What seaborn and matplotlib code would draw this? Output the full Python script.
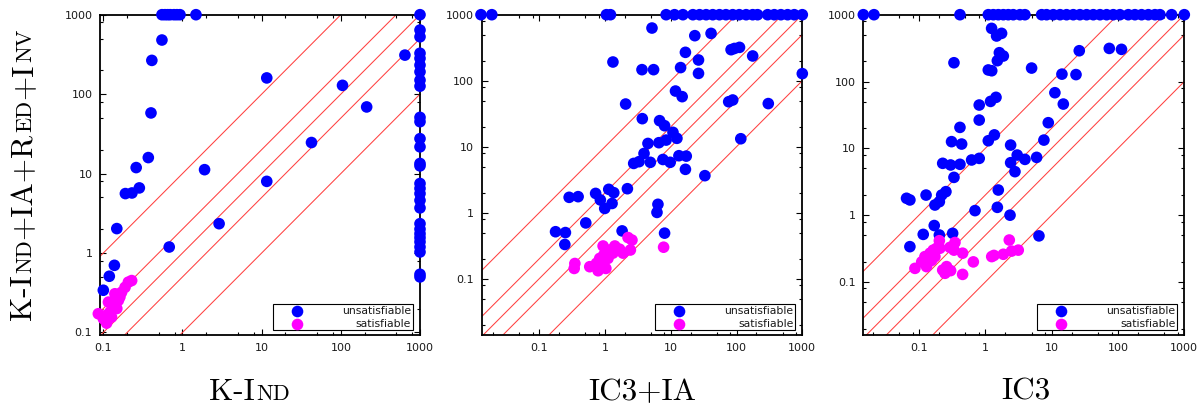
import numpy as np
import pandas as pd
import matplotlib
matplotlib.use("Agg")
import matplotlib.pyplot as plt
import matplotlib.transforms as mtrans
from matplotlib import ticker
from matplotlib.patches import Rectangle
import seaborn as sns

# ---------------- data ----------------
# Panel 1: K-Ind (x) vs K-Ind+IA+Red+Inv (y)
p1_unsat_x = [0.55, 0.6, 0.65, 0.7, 0.78, 0.85, 0.93, 1.48,
              0.55, 0.41, 0.40, 0.37, 0.26, 0.19, 0.23, 0.285, 0.148, 0.138, 0.119, 0.1,
              0.68, 1.9, 2.9, 11.6, 11.6, 42.6, 105, 212, 645,
              1000, 1000, 1000, 1000, 1000, 1000, 1000, 1000, 1000, 1000,
              1000, 1000, 1000, 1000, 1000, 1000, 1000, 1000, 1000, 1000,
              1000, 1000, 1000, 1000, 1000, 1000, 1000, 1000, 1000]
p1_unsat_y = [1000, 1000, 1000, 1000, 1000, 1000, 1000, 1000,
              480, 266, 58, 15.9, 11.9, 5.6, 5.7, 6.6, 2.03, 0.70, 0.51, 0.34,
              1.19, 11.2, 2.34, 160, 7.98, 24.6, 129, 69, 310,
              1000, 641, 527, 327, 282, 232, 191, 150, 126, 51,
              45, 27.5, 21.7, 13.4, 12.5, 7.5, 6.5, 5.6, 4.6, 3.7,
              2.34, 2.0, 1.75, 1.56, 1.38, 1.19, 1.03, 0.54, 0.50]
p1_sat_x = [0.0865, 0.1, 0.11, 0.121, 0.116, 0.134, 0.14, 0.155, 0.148, 0.17,
            0.162, 0.188, 0.207, 0.228, 0.127, 0.108]
p1_sat_y = [0.172, 0.149, 0.131, 0.18, 0.241, 0.23, 0.307, 0.253, 0.2, 0.32,
            0.28, 0.37, 0.43, 0.45, 0.156, 0.164]

# Panel 2: IC3+IA (x) vs K-Ind+IA+Red+Inv (y)
p2_unsat_x = [0.013, 0.019, 1.05, 1.21, 8.5, 11.4, 15.3, 21.7, 27.4, 34.5, 43.5, 55,
              69, 87.5, 110, 140, 176, 209, 297, 375, 473, 598, 755, 1000,
              5.18, 23.2, 41, 1.32, 3.65, 5.48, 16.7, 14.1, 26.4, 26.4, 82.6, 93, 111,
              176, 1000, 11.8, 14.9, 2.06, 76, 87.5, 304, 3.69, 6.76, 8.05, 4.5, 6.6,
              8.5, 10.8, 12.4, 3.92, 2.73, 3.29, 4.89, 7.6, 9.8, 13.3, 17.2, 16.7, 33,
              116, 2.19, 0.72, 0.85, 1.14, 1.36, 0.99, 1.28, 0.285, 0.39, 0.51, 0.177,
              0.25, 0.245, 1.82, 6.38, 6.17, 8.05]
p2_unsat_y = [1000, 1000, 1000, 1000, 1000, 1000, 1000, 1000, 1000, 1000, 1000, 1000,
              1000, 1000, 1000, 1000, 1000, 1000, 1000, 1000, 1000, 1000, 1000, 1000,
              628, 481, 521, 192, 147, 147, 269, 158, 206, 129, 295, 308, 320,
              237, 128, 69.7, 57.3, 44.3, 48, 51, 45, 26.6, 24.8, 20.8, 11.2, 11.5,
              12.6, 16.5, 13.4, 7.9, 5.58, 5.93, 5.8, 6.4, 5.8, 7.3, 7.2, 4.54, 3.64,
              13.2, 2.31, 1.96, 1.56, 2.26, 2.01, 1.16, 1.38, 1.71, 1.75, 0.70, 0.515,
              0.50, 0.33, 0.53, 1.34, 1.01, 0.49]
p2_sat_x = [0.348, 0.34, 0.586, 0.74, 0.785, 0.88, 1.03, 0.83, 0.96, 1.11, 1.18, 0.935,
            1.41, 1.67, 1.88, 2.24, 2.57, 2.43, 7.78, 1.32]
p2_sat_y = [0.17, 0.143, 0.152, 0.171, 0.132, 0.152, 0.143, 0.203, 0.229, 0.203, 0.272,
            0.313, 0.313, 0.28, 0.244, 0.42, 0.385, 0.272, 0.3, 0.244]

# Panel 3: IC3 (x) vs K-Ind+IA+Red+Inv (y)
p3_unsat_x = [0.0145, 0.021, 0.415, 1.11, 1.32, 1.57, 1.87, 2.22, 2.64, 3.33, 3.96, 7.07,
              8.4, 10.6, 13.4, 16.8, 21.2, 26.7, 33.7, 42.5, 53.6, 67.5, 85, 107, 143,
              180, 227, 287, 361, 430, 644, 1000,
              1.245, 1.48, 1.76, 0.337, 1.63, 1.52, 1.87, 1.11, 1.25, 4.99, 26.1, 74,
              113, 14.3, 23.3, 11.2, 15, 1.2, 1.45, 0.81, 0.81, 0.415, 8.9, 7.65, 0.31,
              0.44, 1.11, 1.37, 2.41, 0.228, 0.3, 0.415, 0.622, 0.81, 0.337, 3.03, 3.96,
              5.94, 2.41, 2.8, 0.065, 0.073, 0.128, 0.174, 0.203, 0.22, 0.255, 1.57,
              0.7, 1.52, 2.36, 0.17, 0.203, 0.322, 0.116, 0.073, 6.44]
p3_unsat_y = [1000, 1000, 1000, 1000, 1000, 1000, 1000, 1000, 1000, 1000, 1000, 1000,
              1000, 1000, 1000, 1000, 1000, 1000, 1000, 1000, 1000, 1000, 1000, 1000, 1000,
              1000, 1000, 1000, 1000, 1000, 1000, 1000,
              624, 480, 526, 191, 270, 205, 241, 149, 145, 159, 289, 313,
              303, 129, 127, 68, 46, 50.4, 58, 44.5, 26.5, 20.6, 24.2, 13.3, 12.6,
              11.6, 13, 15.9, 11.2, 5.97, 5.64, 5.77, 6.7, 7.08, 3.68, 7.94, 6.84,
              7.33, 6.1, 4.48, 1.79, 1.69, 2.0, 1.42, 1.59, 2.0, 2.25, 2.38,
              1.17, 1.31, 1.0, 0.70, 0.505, 0.535, 0.516, 0.338, 0.49]
p3_sat_x = [0.087, 0.11, 0.13, 0.123, 0.147, 0.155, 0.174, 0.164, 0.185, 0.203, 0.207,
            0.138, 0.228, 0.261, 0.247, 0.3, 0.293, 0.349, 0.337, 0.455, 0.455, 0.66,
            1.25, 1.35, 1.87, 2.3, 2.49, 3.14]
p3_sat_y = [0.16, 0.2, 0.17, 0.24, 0.27, 0.21, 0.24, 0.3, 0.32, 0.415, 0.32,
            0.2, 0.151, 0.17, 0.135, 0.148, 0.33, 0.39, 0.3, 0.27, 0.13, 0.2,
            0.24, 0.25, 0.26, 0.425, 0.29, 0.3]

categories = ["unsatisfiable", "satisfiable"]
guide_factors = [10, 2, 1, 0.5, 0.1]
tick_values = [0.1, 1, 10, 100, 1000]
tick_labels = ["0.1", "1", "10", "100", "1000"]

# ---------------- style ----------------
sns.set_style("ticks")
plt.rcParams.update({
    "font.family": ["DejaVu Sans"],
    "axes.linewidth": 1.3,
    "axes.edgecolor": "black",
    "xtick.color": "black",
    "ytick.color": "black",
    "xtick.labelcolor": "#1a1a1a",
    "ytick.labelcolor": "#1a1a1a",
})

W, H = 1203, 407
fig = plt.figure(figsize=(W / 100, H / 100), dpi=100)
palette = {"unsatisfiable": "#0000ff", "satisfiable": "#ff00ff"}

panels = [
    dict(rect=(100, 14.7, 320, 320.3), xlim=(10 ** -1.042, 1000), ylim=(10 ** -1.032, 1000),
         ux=p1_unsat_x, uy=p1_unsat_y, sx=p1_sat_x, sy=p1_sat_y),
    dict(rect=(481.7, 14.7, 320.6, 320.3), xlim=(10 ** -1.875, 1000), ylim=(10 ** -1.853, 1000),
         ux=p2_unsat_x, uy=p2_unsat_y, sx=p2_sat_x, sy=p2_sat_y),
    dict(rect=(863.3, 14.7, 321, 320.3), xlim=(10 ** -1.839, 1000), ylim=(10 ** -1.793, 1000),
         ux=p3_unsat_x, uy=p3_unsat_y, sx=p3_sat_x, sy=p3_sat_y),
]

for p in panels:
    l, t, w, h = p["rect"]
    ax = fig.add_axes([l / W, (H - t - h) / H, w / W, h / H])
    df = pd.DataFrame({
        "x": list(p["ux"]) + list(p["sx"]),
        "y": list(p["uy"]) + list(p["sy"]),
        "status": [categories[0]] * len(p["ux"]) + [categories[1]] * len(p["sx"]),
    })
    sns.scatterplot(data=df, x="x", y="y", hue="status", hue_order=categories,
                    palette=palette, s=70, linewidth=0, edgecolor="none",
                    legend=False, ax=ax, clip_on=False, zorder=3)
    ax.set_xscale("log")
    ax.set_yscale("log")
    ax.set_xlim(*p["xlim"])
    ax.set_ylim(*p["ylim"])
    xs = np.logspace(-3, 4, 2)
    for k in guide_factors:
        ax.plot(xs, k * xs, color="#ff4040", lw=0.75, zorder=1)
    for axis in (ax.xaxis, ax.yaxis):
        axis.set_major_locator(ticker.FixedLocator(tick_values))
        axis.set_major_formatter(ticker.FixedFormatter(tick_labels))
        axis.set_minor_locator(ticker.LogLocator(base=10, subs=[2, 5, 8], numticks=20))
        axis.set_minor_formatter(ticker.NullFormatter())
    ax.tick_params(which="both", direction="in", top=True, right=True,
                   width=0.8, labelsize=8, pad=5.5)
    ax.tick_params(which="major", length=4)
    ax.tick_params(which="minor", length=2.5)
    ax.set_xlabel("")
    ax.set_ylabel("")
    for sp in ax.spines.values():
        sp.set_zorder(2.5)

    # legend box (lower right)
    ax.add_patch(Rectangle((0.54, 0.016), 0.438, 0.081, transform=ax.transAxes,
                           facecolor="white", edgecolor="black", lw=0.8, zorder=4))
    for cat, yy in zip(categories, [0.076, 0.034]):
        ax.scatter([0.615], [yy], s=70, color=palette[cat], linewidth=0,
                   transform=ax.transAxes, zorder=5, clip_on=False)
        ax.text(0.972, yy, cat, ha="right", va="center", fontsize=7.8,
                color="#1a1a1a", transform=ax.transAxes, zorder=5)

# ---------------- small-caps axis titles ----------------
BIG, SMALL = 22.5, 16
FAM = ["cmr10", "DejaVu Serif"]


def place_pieces(pieces, cx, cy, rotation):
    r = fig.canvas.get_renderer()
    ts = []
    for s, fs in pieces:
        ts.append(fig.text(0, 0, s, fontsize=fs, family=FAM, rotation=rotation,
                           rotation_mode="anchor", ha="left", va="baseline",
                           color="black", transform=mtrans.IdentityTransform()))
    lens = []
    for tt in ts:
        bb = tt.get_window_extent(r)
        lens.append((bb.width if rotation == 0 else bb.height) + 1.0)
    pos = -sum(lens) / 2
    for tt, L in zip(ts, lens):
        if rotation == 0:
            tt.set_position((cx + pos, cy))
        else:
            tt.set_position((cx, cy + pos))
        pos += L


fig.canvas.draw()
place_pieces([("K-I", BIG), ("ND", SMALL)], 250, H - 400, 0)
place_pieces([("IC3+IA", BIG)], 643, H - 400, 0)
place_pieces([("IC3", BIG)], 1026, H - 400, 0)
place_pieces([("K-I", BIG), ("ND", SMALL), ("+IA+R", BIG), ("ED", SMALL),
              ("+I", BIG), ("NV", SMALL)], 31.5, H - 174, 90)

fig.savefig("out.png", dpi=100)
